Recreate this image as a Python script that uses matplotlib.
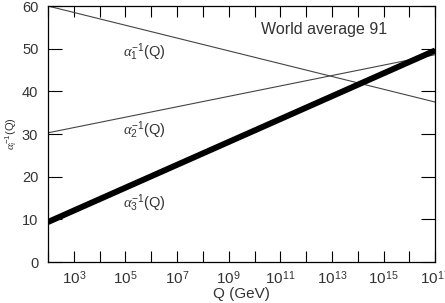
import math

import matplotlib
matplotlib.use('Agg')
import matplotlib.pyplot as plt
from matplotlib.ticker import FixedLocator, FuncFormatter

plt.rcParams['font.family'] = ['Liberation Sans', 'DejaVu Sans']
plt.rcParams['mathtext.fontset'] = 'custom'
plt.rcParams['mathtext.rm'] = 'Liberation Sans'
plt.rcParams['mathtext.it'] = 'Liberation Serif:italic'

# energy range (GeV) and inverse couplings at the ends
q_ends = [1e2, 1e17]
alpha1_inv = [60.0, 37.5]
alpha2_inv = [30.3, 48.6]
alpha3_inv = [9.4, 49.6]

curve_labels = [r'$\alpha_1^{-1}$(Q)', r'$\alpha_2^{-1}$(Q)', r'$\alpha_3^{-1}$(Q)']
label_q = [8e4, 8e4, 8e4]
label_y = [49.2, 30.9, 13.8]

decades = list(range(2, 18))


def decade_label(v, pos):
    d = round(math.log10(v))
    return r'$10^{%d}$' % d if d % 2 == 1 else ''


fig = plt.figure(figsize=(4.45, 3.03), dpi=100)
ax = fig.add_axes([0.108, 0.135, 0.87, 0.845])

ax.plot(q_ends, alpha1_inv, color='#444444', lw=0.8)
ax.plot(q_ends, alpha2_inv, color='#444444', lw=0.8)
ax.plot(q_ends, alpha3_inv, color='black', lw=4.3, solid_capstyle='butt')

for txt, xq, yv in zip(curve_labels, label_q, label_y):
    ax.text(xq, yv, txt, fontsize=10.5, color='#333333', ha='left', va='center')

ax.text(0.55, 0.91, 'World average 91', transform=ax.transAxes,
        fontsize=11.5, color='#333333', ha='left', va='center')

ax.set_xscale('log')
ax.set_xlim(q_ends)
ax.set_ylim(0, 60)

ax.xaxis.set_major_locator(FixedLocator([10.0 ** d for d in decades]))
ax.xaxis.set_minor_locator(FixedLocator([]))
ax.xaxis.set_major_formatter(FuncFormatter(decade_label))
ax.set_yticks([0, 10, 20, 30, 40, 50, 60])

ax.tick_params(axis='x', which='both', direction='in', length=8, width=0.8,
               top=True, pad=5, labelsize=11, labelcolor='#333333')
ax.tick_params(axis='y', direction='in', length=10, width=0.8,
               right=True, pad=7, labelsize=10.5, labelcolor='#333333')

for s in ax.spines.values():
    s.set_linewidth(0.9)

ax.set_xlabel('Q (GeV)', fontsize=11, color='#333333', labelpad=0)
ax.set_ylabel(r'$\alpha_i^{-1}$(Q)', fontsize=8, color='#333333', labelpad=2)

fig.savefig('out.png', dpi=100)
